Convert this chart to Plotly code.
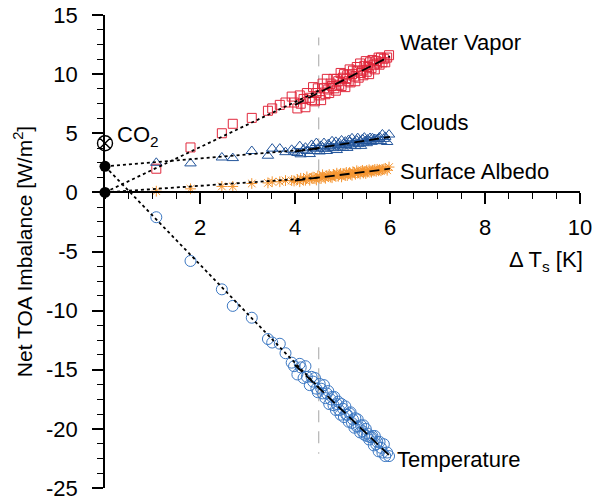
import plotly.graph_objects as go

# ---------------- data ----------------
dTs = [1.08, 1.80, 2.46, 2.69, 3.09, 3.43, 3.52, 3.68, 3.80, 3.93,
       3.98, 4.05, 4.10, 4.12, 4.18, 4.22, 4.25, 4.31, 4.35, 4.38,
       4.42, 4.45, 4.48, 4.52, 4.55, 4.58, 4.61, 4.64, 4.67, 4.70,
       4.72, 4.75, 4.78, 4.81, 4.83, 4.86, 4.88, 4.91, 4.93, 4.96,
       4.98, 5.01, 5.03, 5.06, 5.08, 5.10, 5.13, 5.15, 5.17, 5.20,
       5.22, 5.25, 5.27, 5.30, 5.32, 5.34, 5.37, 5.39, 5.42, 5.44,
       5.46, 5.49, 5.51, 5.53, 5.56, 5.58, 5.61, 5.63, 5.66, 5.68,
       5.71, 5.73, 5.76, 5.78, 5.81, 5.84, 5.87, 5.90, 5.94, 5.98]

water_vapor = [2.0, 3.8, 5.0, 5.8, 6.3, 6.9, 7.1, 7.4, 7.6, 8.1,
               7.6, 7.1, 8.2, 7.5, 7.9, 7.2, 8.4, 8.0, 7.8, 8.9,
               7.7, 8.4, 8.8, 8.2, 7.8, 9.2, 8.8, 8.3, 9.6, 8.7,
               8.4, 9.2, 9.0, 9.6, 8.8, 8.6, 9.6, 9.4, 9.1, 10.1,
               9.0, 9.7, 10.0, 8.9, 9.6, 9.9, 9.4, 10.4, 9.3, 10.0,
               10.3, 9.8, 9.4, 10.6, 10.3, 9.7, 10.9, 10.1, 10.3, 9.9,
               10.7, 11.1, 10.2, 10.6, 10.0, 11.0, 10.5, 11.2, 10.8, 10.4,
               11.1, 10.9, 11.4, 10.8, 11.4, 11.0, 11.3, 11.0, 11.4, 11.6]

clouds = [2.5, 2.45, 2.95, 2.9, 3.5, 3.1, 3.7, 3.7, 3.4, 3.6,
          3.44, 3.33, 3.91, 3.22, 3.61, 3.78, 3.50, 3.24, 4.01, 3.78,
          3.50, 4.17, 3.69, 3.46, 3.93, 3.80, 4.17, 3.68, 3.50, 4.07,
          3.93, 3.80, 4.32, 3.74, 4.05, 4.27, 3.58, 4.00, 4.16, 3.88,
          4.39, 3.76, 4.12, 4.29, 4.00, 3.76, 4.43, 4.24, 3.95, 4.57,
          4.13, 4.20, 3.91, 4.38, 4.59, 4.10, 4.32, 3.93, 4.50, 4.21,
          4.63, 4.34, 4.16, 4.47, 4.34, 4.60, 4.27, 4.58, 4.35, 4.51,
          4.33, 4.49, 4.56, 4.67, 4.34, 4.90, 4.52, 4.69, 4.26, 4.89]

albedo = [0.1, 0.3, 0.5, 0.5, 0.75, 0.8, 0.9, 0.9, 1.0, 1.0,
          0.96, 1.08, 0.90, 1.19, 1.09, 1.03, 1.31, 1.03, 1.21, 1.29,
          1.16, 1.05, 1.39, 1.31, 1.18, 1.49, 1.28, 1.19, 1.42, 1.35,
          1.51, 1.30, 1.24, 1.51, 1.45, 1.38, 1.62, 1.36, 1.52, 1.61,
          1.31, 1.51, 1.60, 1.45, 1.69, 1.42, 1.60, 1.68, 1.54, 1.45,
          1.74, 1.68, 1.54, 1.83, 1.63, 1.67, 1.56, 1.78, 1.86, 1.64,
          1.76, 1.60, 1.86, 1.72, 1.91, 1.79, 1.71, 1.87, 1.80, 1.94,
          1.78, 1.95, 1.83, 1.92, 1.83, 1.92, 1.97, 2.03, 1.87, 2.14]

temperature = [-2.1, -5.8, -8.2, -9.6, -10.6, -12.4, -12.7, -12.8, -13.6, -14.4,
               -14.7, -15.4, -14.5, -14.8, -15.7, -14.7, -15.6, -16.3, -15.6, -16.0,
               -15.7, -16.6, -16.9, -16.2, -16.6, -17.0, -16.3, -17.4, -17.0, -16.8,
               -17.9, -17.5, -17.3, -18.0, -17.3, -18.4, -17.9, -17.7, -18.4, -18.8,
               -17.9, -18.3, -19.0, -18.1, -18.8, -18.8, -19.4, -18.7, -18.6, -19.5,
               -19.2, -19.9, -19.1, -19.8, -19.2, -19.8, -20.3, -19.7, -20.2, -19.7,
               -20.5, -20.0, -20.6, -20.4, -20.9, -20.7, -20.7, -20.6, -21.4, -20.6,
               -21.3, -21.1, -21.9, -21.1, -21.6, -22.0, -21.3, -22.3, -22.0, -22.3]

# forcing intercepts and CO2 symbol
forcing_x = [0.0, 0.0]
forcing_y = [0.0, 2.2]
co2_x = [0.0]
co2_y = [4.15]

# regression lines (early years: dotted; late years: dashed)
early_x = [0.0, 4.5]
early_fit = {
    "Water Vapor": [0.0, 8.6],
    "Clouds": [2.2, 3.7],
    "Surface Albedo": [0.0, 1.25],
    "Temperature": [2.2, -16.5],
}
late_x = [4.0, 6.0]
late_fit = {
    "Water Vapor": [7.4, 11.5],
    "Clouds": [3.45, 4.7],
    "Surface Albedo": [1.0, 2.0],
    "Temperature": [-14.6, -22.3],
}

# vertical reference line at dTs = 4.5
ref_x = [4.5, 4.5, None, 4.5, 4.5]
ref_y = [0.0, 13.1, None, -13.1, -22.1]

y_ticks = [-25, -20, -15, -10, -5, 0, 5, 10, 15]
x_ticks = [2, 4, 6, 8, 10]

series_labels = ["Water Vapor", "Clouds", "Surface Albedo", "Temperature"]
label_x = [6.17, 6.17, 6.17, 6.1]
label_y = [12.7, 5.9, 1.78, -22.6]

FONT = "Liberation Sans, Arial, Helvetica, sans-serif"
FS = 22

fig = go.Figure()

# reference line
fig.add_trace(go.Scatter(x=ref_x, y=ref_y, mode="lines",
                         line=dict(color="rgb(165,165,165)", width=1, dash="12px,9px"),
                         hoverinfo="skip", showlegend=False))

# markers
fig.add_trace(go.Scatter(x=dTs, y=water_vapor, mode="markers",
                         marker=dict(symbol="square-open", size=9,
                                     color="rgb(225,40,60)", line=dict(width=1)),
                         showlegend=False, cliponaxis=False))
fig.add_trace(go.Scatter(x=dTs, y=clouds, mode="markers",
                         marker=dict(symbol="triangle-up-open", size=10,
                                     color="rgb(35,85,155)", line=dict(width=1)),
                         showlegend=False, cliponaxis=False))
fig.add_trace(go.Scatter(x=dTs, y=albedo, mode="markers",
                         marker=dict(symbol="asterisk-open", size=9,
                                     color="rgb(245,150,50)", line=dict(width=1)),
                         showlegend=False, cliponaxis=False))
fig.add_trace(go.Scatter(x=dTs, y=temperature, mode="markers",
                         marker=dict(symbol="circle-open", size=11,
                                     color="rgb(60,120,195)", line=dict(width=1)),
                         showlegend=False, cliponaxis=False))

# regression lines
for name in series_labels:
    fig.add_trace(go.Scatter(x=early_x, y=early_fit[name], mode="lines",
                             line=dict(color="black", width=1.8, dash="3px,3px"),
                             showlegend=False, cliponaxis=False))
    fig.add_trace(go.Scatter(x=late_x, y=late_fit[name], mode="lines",
                             line=dict(color="black", width=1.8, dash="10px,5px"),
                             showlegend=False, cliponaxis=False))

# forcing intercept dots and CO2 symbol
fig.add_trace(go.Scatter(x=forcing_x, y=forcing_y, mode="markers",
                         marker=dict(symbol="circle", size=11, color="black"),
                         showlegend=False, cliponaxis=False))
fig.add_trace(go.Scatter(x=co2_x, y=co2_y, mode="markers",
                         marker=dict(symbol="circle-x-open", size=15, color="black",
                                     line=dict(width=1.4)),
                         showlegend=False, cliponaxis=False))

annotations = []
for t, lx, ly in zip(series_labels, label_x, label_y):
    annotations.append(dict(x=lx, y=ly, text=t, showarrow=False, xanchor="left",
                            yanchor="middle", font=dict(family=FONT, size=FS, color="black")))
annotations.append(dict(x=0.22, y=4.8, text="CO<sub>2</sub>", showarrow=False,
                        xanchor="left", yanchor="middle",
                        font=dict(family=FONT, size=FS, color="black")))
annotations.append(dict(x=1.0, xref="paper", y=-5.8, text="Δ T<sub>s</sub> [K]",
                        showarrow=False, xanchor="right", yanchor="middle", xshift=5,
                        font=dict(family=FONT, size=FS, color="black")))

fig.update_layout(
    width=598, height=498,
    margin=dict(l=105, r=18, t=15, b=10),
    paper_bgcolor="white", plot_bgcolor="white",
    font=dict(family=FONT, size=FS, color="black"),
    annotations=annotations,
    xaxis=dict(range=[0, 10], anchor="free", position=0.625, automargin=False,
               showline=True, linecolor="black", linewidth=1.5,
               ticks="outside", ticklen=11, tickwidth=1.5, tickcolor="black",
               tickvals=x_ticks, ticktext=[str(v) for v in x_ticks],
               ticklabelstandoff=4, ticklabeloverflow="allow",
               minor=dict(ticks="outside", ticklen=6, tickwidth=1, tick0=0, dtick=0.5,
                          tickcolor="black"),
               showgrid=False, zeroline=False,
               tickfont=dict(family=FONT, size=FS)),
    yaxis=dict(range=[-25, 15], domain=[0, 1], automargin=False,
               showline=True, linecolor="black", linewidth=1.5,
               ticks="outside", ticklen=11, tickwidth=1.5, tickcolor="black",
               tickvals=y_ticks, ticktext=[str(v) for v in y_ticks],
               ticklabelstandoff=10, ticklabeloverflow="allow",
               minor=dict(ticks="outside", ticklen=6, tickwidth=1, tick0=0, dtick=1.25,
                          tickcolor="black"),
               showgrid=False, zeroline=False,
               tickfont=dict(family=FONT, size=FS),
               title=dict(text="Net TOA Imbalance [W/m<sup>2</sup>]",
                          font=dict(family=FONT, size=21), standoff=8)),
)

fig.write_html("out.html")
